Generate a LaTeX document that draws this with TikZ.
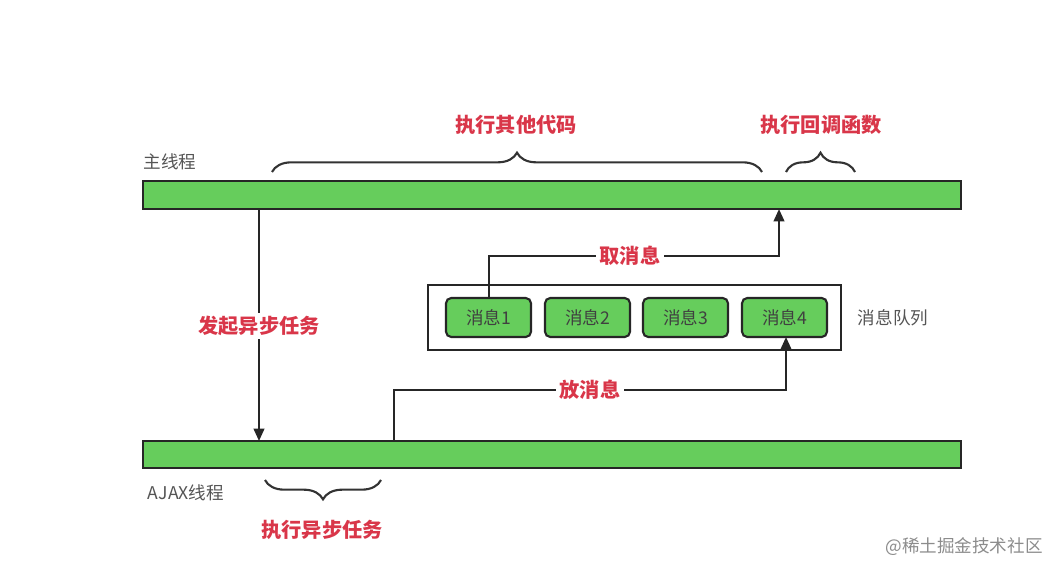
\documentclass[tikz,border=0pt]{standalone}
\usepackage{fontspec}
\newfontfamily\cjk{Noto Sans CJK SC}
\usetikzlibrary{decorations.pathreplacing,arrows.meta}
\definecolor{barg}{HTML}{66CD5C}
\definecolor{redt}{HTML}{D93649}
\definecolor{grayt}{HTML}{555555}
\tikzset{
  bar/.style={draw=black!85, line width=1.2pt, fill=barg},
  msg/.style={draw=black!85, line width=1.2pt, fill=barg, rounded corners=3pt, minimum width=85*0.02cm, minimum height=39*0.02cm, font=\cjk\fontsize{10}{12}\selectfont, text=black!75},
  redlab/.style={font=\cjk\bfseries\fontsize{11.5}{13}\selectfont, text=redt},
  graylab/.style={font=\cjk\fontsize{10}{12}\selectfont, text=grayt},
  conn/.style={draw=black!85, line width=1.2pt},
  arr/.style={conn, -{Triangle[length=7pt,width=6pt]}},
  br/.style={draw=black!80, line width=1.2pt, decorate, decoration={brace, amplitude=11pt}},
}
\begin{document}
\begin{tikzpicture}[x=0.02cm,y=-0.02cm]
\useasboundingbox (0,0) rectangle (1064,574);
\fill[white] (0,0) rectangle (1064,574);
% bars
\node[bar, minimum width=818*0.02cm, minimum height=28*0.02cm, inner sep=0pt] (main) at (552,195) {};
\node[bar, minimum width=818*0.02cm, minimum height=27*0.02cm, inner sep=0pt] (ajax) at (552,454.5) {};
\node[graylab] (mainlab) at (170,162) {主线程};
\node[graylab] (ajaxlab) at (186,493) {AJAX线程};
% queue
\node[draw=black!85, line width=1.2pt, minimum width=413*0.02cm, minimum height=65*0.02cm, inner sep=0pt] (queue) at (634.5,317.5) {};
\node[msg] (m1) at (488.5,317.5) {消息1};
\node[msg] (m2) at (587.5,317.5) {消息2};
\node[msg] (m3) at (685.5,317.5) {消息3};
\node[msg] (m4) at (784.5,317.5) {消息4};
\node[graylab] (qlab) at (893,318) {消息队列};
% coordinates
\coordinate (a1) at (259,209);
\coordinate (a2) at (259,441);
\coordinate (t1) at (489,256);
\coordinate (t2) at (779,256);
\coordinate (t3) at (779,209);
\coordinate (p0) at (394,441);
\coordinate (p1) at (394,390);
\coordinate (p2) at (786,390);
\coordinate (p3) at (786,337);
% arrows
\draw[arr] (a1) -- (a2);
\node[redlab, fill=white, inner sep=2pt] (l1) at (259,326) {发起异步任务};
\draw[arr] (m1.north -| t1) -- (t1) -- (t2) -- (t3);
\node[redlab, fill=white, inner sep=2pt] (l2) at (630,256) {取消息};
\draw[arr] (p0) -- (p1) -- (p2) -- (p3);
\node[redlab, fill=white, inner sep=2pt] (l3) at (590,390) {放消息};
% braces
\draw[br] (272,172) -- (762,172);
\node[redlab] (b1) at (516,125) {执行其他代码};
\draw[br] (786,172) -- (855,172);
\node[redlab] (b2) at (821,125) {执行回调函数};
\draw[br, decoration={mirror}] (265,480) -- (381,480);
\node[redlab] (b3) at (322,530) {执行异步任务};
% watermark
\node[font=\cjk\fontsize{10}{12}\selectfont, text=black!45] (wm) at (964,547) {@稀土掘金技术社区};
\end{tikzpicture}
\end{document}
